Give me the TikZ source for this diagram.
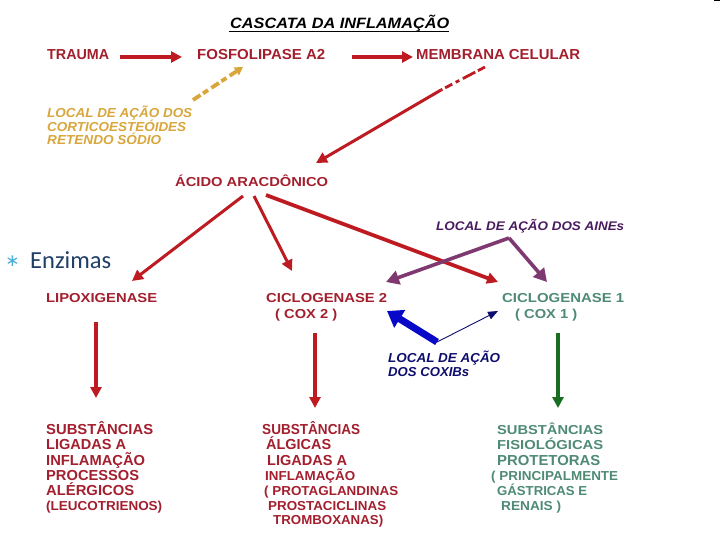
\documentclass[tikz,border=0pt]{standalone}
\usepackage{fontspec}
\usepackage{graphicx}
\setmainfont{Liberation Sans}
\newfontfamily\enzfont{Carlito}
\newfontfamily\starfont{DejaVu Sans}
\usetikzlibrary{arrows.meta}
\definecolor{redtxt}{HTML}{A31F2E}
\definecolor{redarr}{HTML}{BE1A22}
\definecolor{goldc}{HTML}{D8A63A}
\definecolor{purtxt}{HTML}{4A1A60}
\definecolor{purarr}{HTML}{7E3A70}
\definecolor{navytxt}{HTML}{0D0D6E}
\definecolor{bluearr}{HTML}{0808C8}
\definecolor{grntxt}{HTML}{4E8A74}
\definecolor{grnarr}{HTML}{1A6E22}
\definecolor{enzc}{HTML}{1F3F66}
\definecolor{starc}{HTML}{4DB0D8}
\tikzset{
  lbl/.style={inner sep=0pt,anchor=base west,font=\bfseries\fontsize{13}{13}\selectfont},
  redl/.style={lbl,text=redtxt},
  redb/.style={lbl,text=redtxt,font=\bfseries\fontsize{14.5}{14.5}\selectfont},
  goldl/.style={lbl,text=goldc,font=\bfseries\itshape\fontsize{13}{13}\selectfont},
  purl/.style={lbl,text=purtxt,font=\bfseries\itshape\fontsize{12.5}{12.5}\selectfont},
  navyl/.style={lbl,text=navytxt,font=\bfseries\itshape\fontsize{13}{13}\selectfont},
  grnl/.style={lbl,text=grntxt},
  conn/.style={-{Triangle[length=11pt,width=11pt]},line width=3.8pt,redarr},
  thinred/.style={conn,line width=3pt},
  goldarr/.style={-{Triangle[length=8pt,width=9pt]},line width=3.8pt,goldc,dash pattern=on 9pt off 3pt on 6pt off 4pt},
  purpa/.style={-{Triangle[length=13pt,width=14pt]},line width=3.6pt,purarr},
}
\newcommand{\tx}[5]{\node[#1] (#2) at #3 {\resizebox{#4pt}{\height}{#5}};}
\begin{document}
\begin{tikzpicture}[x=1pt,y=-1pt]
\useasboundingbox (0,0) rectangle (720,540);
\fill[white] (0,0) rectangle (720,540);
\fill[black] (714,0) rectangle (720,1.2);

\tx{lbl,font=\bfseries\itshape\fontsize{15}{15}\selectfont,text=black}{title}{(230,29)}{219}{CASCATA DA INFLAMAÇÃO}
\draw[black,line width=0.9pt] (229,31.5) -- (449,31.5);

\tx{redb}{trauma}{(47,60)}{62}{TRAUMA}
\tx{redb}{fosfo}{(197,60)}{128}{FOSFOLIPASE A2}
\tx{redb}{memb}{(416,60)}{164}{MEMBRANA CELULAR}

\tx{goldl}{g1}{(47,118)}{145}{LOCAL DE AÇÃO DOS}
\tx{goldl}{g2}{(47,132)}{139}{CORTICOESTEÓIDES}
\tx{goldl}{g3}{(47,145)}{114}{RETENDO SÓDIO}

\tx{redl}{acido}{(175,187)}{153}{ÁCIDO ARACDÔNICO}
\tx{purl}{aine}{(436,231)}{188}{LOCAL DE AÇÃO DOS AINEs}

\tx{redl}{lipo}{(46,302)}{111}{LIPOXIGENASE}
\tx{redl}{cox2a}{(266,302)}{121}{CICLOGENASE 2}
\tx{redl}{cox2b}{(275,318)}{62}{( COX 2 )}
\tx{grnl}{cox1a}{(502,302)}{122}{CICLOGENASE 1}
\tx{grnl}{cox1b}{(515,318)}{62}{( COX 1 )}

\tx{navyl}{cx1}{(388,362)}{112}{LOCAL DE AÇÃO}
\tx{navyl}{cx2}{(388,376)}{81}{DOS COXIBs}

\tx{redb}{l1}{(46,434)}{107}{SUBSTÂNCIAS}
\tx{redb}{l2}{(46,449)}{80}{LIGADAS A}
\tx{redb}{l3}{(46,465)}{99}{INFLAMAÇÃO}
\tx{redb}{l4}{(46,480)}{93}{PROCESSOS}
\tx{redb}{l5}{(46,495)}{88}{ALÉRGICOS}
\tx{redl}{l6}{(46,510)}{116}{(LEUCOTRIENOS)}

\tx{redb}{m1}{(262,434)}{98}{SUBSTÂNCIAS}
\tx{redb}{m2}{(266,449)}{65}{ÁLGICAS}
\tx{redb}{m3}{(267,465)}{80}{LIGADAS A}
\tx{redl}{m4}{(265,480)}{90}{INFLAMAÇÃO}
\tx{redl}{m5}{(264,495)}{134}{( PROTAGLANDINAS}
\tx{redl}{m6}{(268,510)}{118}{PROSTACICLINAS}
\tx{redl}{m7}{(273,524)}{110}{TROMBOXANAS)}

\tx{grnl}{r1}{(497,434)}{106}{SUBSTÂNCIAS}
\tx{grnl}{r2}{(497,449)}{106}{FISIOLÓGICAS}
\tx{redb,text=grntxt}{r3}{(497,465)}{103}{PROTETORAS}
\tx{grnl}{r4}{(491,480)}{127}{( PRINCIPALMENTE}
\tx{grnl}{r5}{(497,495)}{90}{GÁSTRICAS E}
\tx{grnl}{r6}{(501,510)}{60}{RENAIS )}

\node[inner sep=0pt,anchor=base west,text=enzc,font=\enzfont\fontsize{24.5}{24.5}\selectfont] (enz) at (30,268) {Enzimas};
\node[inner sep=0pt,text=starc,font=\starfont\fontsize{17}{17}\selectfont] (star) at (12.5,261) {∗};

% connector ends
\coordinate (a1) at (120,57); \coordinate (a2) at (182,57);
\coordinate (b1) at (352,57); \coordinate (b2) at (413,57);
\coordinate (c0) at (485,67); \coordinate (c1) at (441,90); \coordinate (c2) at (316,163);
\coordinate (d1) at (193,100); \coordinate (d2) at (243,67);
\coordinate (e1) at (243,196); \coordinate (e2) at (132,281);
\coordinate (f1) at (254,196); \coordinate (f2) at (292,271);
\coordinate (g0) at (266,195); \coordinate (g9) at (498,282);
\coordinate (h0) at (509,238); \coordinate (h1) at (386,282); \coordinate (h2) at (547,282);
\coordinate (i0) at (437,342); \coordinate (i1) at (387,311); \coordinate (i2) at (498,311);
\coordinate (j1) at (96,322); \coordinate (j2) at (96,398);
\coordinate (k1) at (315,333); \coordinate (k2) at (315,408);
\coordinate (n1) at (558,333); \coordinate (n2) at (558,408);

\draw[conn] (a1) -- (a2);
\draw[conn] (b1) -- (b2);
\draw[line width=2.8pt,redarr,dash pattern=on 8pt off 3pt on 14pt off 4pt on 4pt off 4pt] (c0) -- (c1);
\draw[thinred] (c1) -- (c2);
\draw[goldarr] (d1) -- (d2);
\draw[thinred] (e1) -- (e2);
\draw[thinred] (f1) -- (f2);
\draw[conn] (g0) -- (g9);
\draw[purpa] (h0) -- (h1);
\draw[purpa] (h0) -- (h2);
\draw[-{Triangle[length=15pt,width=20pt]},line width=7pt,bluearr] (i0) -- (i1);
\draw[-{Triangle[length=10pt,width=8pt]},line width=0.9pt,navytxt] (i0) -- (i2);
\draw[conn] (j1) -- (j2);
\draw[conn] (k1) -- (k2);
\draw[conn,grnarr] (n1) -- (n2);
\end{tikzpicture}
\end{document}
